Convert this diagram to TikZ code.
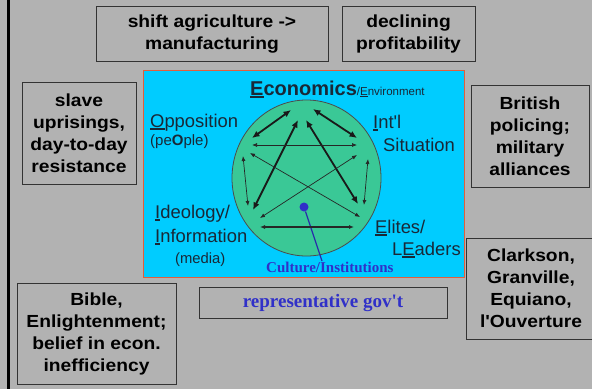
\documentclass[tikz,border=0pt]{standalone}
\usepackage{fontspec}
\setmainfont{Liberation Sans}
\newfontfamily\boxfont[FakeStretch=1.1,Ligatures=TeXOff]{Liberation Sans}
\newfontfamily\labelfont[Ligatures=TeXOff]{Liberation Sans}
\newfontfamily\seriffont[Ligatures=TeXOff]{Liberation Serif}
\usepackage{xcolor}
\definecolor{slidegray}{RGB}{178,178,178}
\definecolor{panelcyan}{RGB}{0,204,255}
\definecolor{paneledge}{RGB}{225,95,60}
\definecolor{discgreen}{RGB}{58,200,150}
\definecolor{labelink}{RGB}{25,40,55}
\definecolor{instblue}{RGB}{48,48,200}
\usepackage{tikz}
\usetikzlibrary{arrows.meta,positioning}

% underlined initial letter of a factor
\newcommand\keyletter[1]{\setbox0\hbox{#1}\rlap{\rule[-0.15em]{\wd0}{0.08em}}\box0}

\tikzset{
  factor/.style={draw=black!80, line width=1pt, fill=slidegray, align=center,
    inner sep=0pt, font=\boxfont\bfseries\fontsize{17.5}{22}\selectfont},
  corner/.style={anchor=base west, inner sep=0pt, text=labelink},
  thinlink/.style={{Latex[length=5pt,width=4pt]}-{Latex[length=5pt,width=4pt]},
    line width=0.7pt, black!85},
  boldlink/.style={{Latex[length=7.5pt,width=6.5pt]}-{Latex[length=7.5pt,width=6.5pt]},
    line width=1.8pt, black!90}
}

\begin{document}
\begin{tikzpicture}[x=1pt,y=-1pt]
  \fill[slidegray] (0,0) rectangle (592,389);
  \useasboundingbox (0,0) rectangle (592,389);
  \draw[line width=2.5pt] (8.5,0) -- (8.5,389);

  % factor boxes round the model
  \node[factor, minimum width=232, minimum height=55] (shift) at (212,34) {shift agriculture ->\\manufacturing};
  \node[factor, minimum width=133, minimum height=55] (profit) at (408.5,34) {declining\\profitability};
  \node[factor, minimum width=114, minimum height=102] (revolt) at (79,133) {slave\\uprisings,\\day-to-day\\resistance};
  \node[factor, minimum width=118, minimum height=102] (police) at (530,136) {British\\policing;\\military\\alliances};
  \node[factor, minimum width=130, minimum height=101] (names) at (531,288.5) {Clarkson,\\Granville,\\Equiano,\\l'Ouverture};
  \node[factor, minimum width=159, minimum height=101] (bible) at (96.5,333.5) {Bible,\\Enlightenment;\\belief in econ.\\inefficiency};
  \node[factor, minimum width=248, minimum height=31,
    font=\seriffont\bfseries\fontsize{19}{22}\selectfont, text=instblue] (govt) at (323,302.5) {representative gov't};

  % the model panel
  \draw[fill=panelcyan, draw=paneledge, line width=0.8pt] (143,70) rectangle (464,277);
  \draw[fill=discgreen, draw=black!70, line width=0.8pt] (306.5,178) ellipse (74.5 and 78);

  \node[corner] (econ) at (250,95) {\labelfont{\bfseries\fontsize{20}{22}\selectfont\keyletter{E}conomics}{\fontsize{11.5}{12}\selectfont/\keyletter{E}nvironment}};
  \node[corner, font=\labelfont\fontsize{18.4}{20}\selectfont] (oppos) at (150,127) {\keyletter{O}pposition};
  \node[corner, font=\labelfont\fontsize{15}{16}\selectfont] (people) at (150,145) {(pe\textbf{O}ple)};
  \node[corner, font=\labelfont\fontsize{18.4}{20}\selectfont] (intl) at (373,128) {\keyletter{I}nt'l};
  \node[corner, font=\labelfont\fontsize{18.4}{20}\selectfont] (situ) at (383,151) {Situation};
  \node[corner, font=\labelfont\fontsize{18.4}{20}\selectfont] (ideo) at (155,218) {\keyletter{I}deology/};
  \node[corner, font=\labelfont\fontsize{18.4}{20}\selectfont] (info) at (155,242) {\keyletter{I}nformation};
  \node[corner, font=\labelfont\fontsize{14.8}{16}\selectfont] (media) at (175,263) {(media)};
  \node[corner, font=\labelfont\fontsize{18.4}{20}\selectfont] (elites) at (375,233) {\keyletter{E}lites/};
  \node[corner, font=\labelfont\fontsize{18.4}{20}\selectfont] (leaders) at (392,255) {L\keyletter{E}aders};
  \node[corner, font=\seriffont\bfseries\fontsize{15}{16}\selectfont, text=instblue] (culture) at (266,272) {Culture/Institutions};

  \node[circle, fill=instblue, inner sep=0pt, minimum size=9pt] (dot) at (304,207) {};
  \coordinate (tail) at (322,261);
  \draw[instblue!85!black, line width=1.2pt] (dot) -- (tail);

  % arrow ends at the five corners
  \coordinate (eco a) at (291,110);  \coordinate (opp a) at (252,138);
  \coordinate (eco b) at (313,109);  \coordinate (int a) at (357,138);
  \coordinate (eco c) at (298,120);  \coordinate (ide a) at (253,210);
  \coordinate (eco d) at (306,120);  \coordinate (eli a) at (358,204);
  \coordinate (opp b) at (252,145);  \coordinate (int b) at (357,145);
  \coordinate (opp c) at (250,153);  \coordinate (eli b) at (360,217);
  \coordinate (int c) at (357,155);  \coordinate (ide b) at (260,218);
  \coordinate (opp d) at (243,156);  \coordinate (ide c) at (248,206);
  \coordinate (int d) at (368,159);  \coordinate (eli c) at (364,205);
  \coordinate (ide d) at (260,227);  \coordinate (eli d) at (354,227);

  \draw[boldlink] (eco a) -- (opp a);
  \draw[boldlink] (eco b) -- (int a);
  \draw[boldlink] (eco c) -- (ide a);
  \draw[boldlink] (eco d) -- (eli a);
  \draw[thinlink] (opp b) -- (int b);
  \draw[thinlink] (opp c) -- (eli b);
  \draw[thinlink] (int c) -- (ide b);
  \draw[thinlink] (opp d) -- (ide c);
  \draw[thinlink] (int d) -- (eli c);
  \draw[thinlink, line width=1.1pt] (ide d) -- (eli d);
\end{tikzpicture}
\end{document}
